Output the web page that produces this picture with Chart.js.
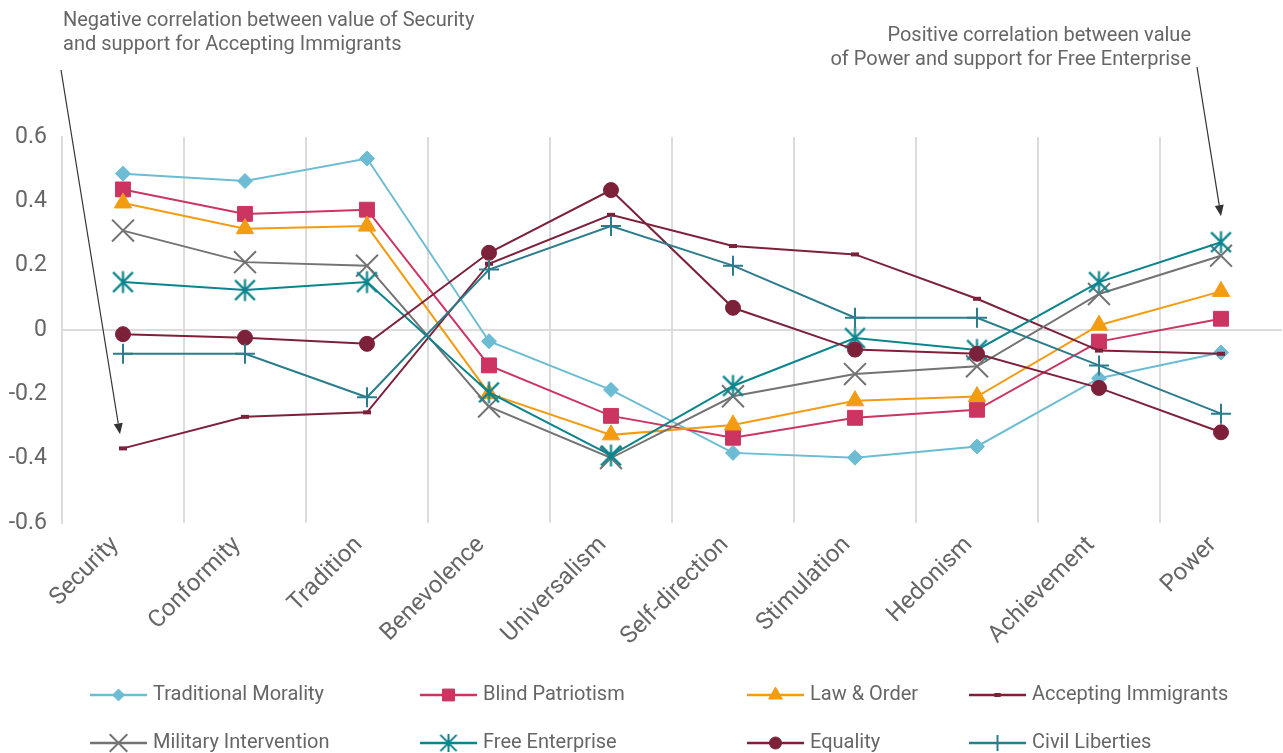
<!DOCTYPE html>
<html>
<head>
<meta charset="utf-8">
<script src="https://cdn.jsdelivr.net/npm/chart.js@4.4.1/dist/chart.umd.min.js"></script>
<style>
  html, body { margin: 0; padding: 0; background: #ffffff; }
  #wrap { width: 1283px; height: 753px; }
</style>
</head>
<body>
<div id="wrap"><canvas id="c" width="1283" height="753"></canvas></div>
<script>
// Schwartz basic values on the horizontal axis
const values = ['Security', 'Conformity', 'Tradition', 'Benevolence', 'Universalism',
                'Self-direction', 'Stimulation', 'Hedonism', 'Achievement', 'Power'];

// Correlation of each value with support for each policy attitude
const traditionalMorality  = [0.486, 0.463, 0.533, -0.035, -0.186, -0.382, -0.397, -0.362, -0.150, -0.070];
const blindPatriotism      = [0.437, 0.361, 0.374, -0.110, -0.267, -0.335, -0.273, -0.248, -0.036, 0.035];
const lawAndOrder          = [0.395, 0.315, 0.323, -0.198, -0.326, -0.295, -0.220, -0.207, 0.015, 0.120];
const acceptingImmigrants  = [-0.368, -0.270, -0.256, 0.206, 0.358, 0.261, 0.235, 0.097, -0.064, -0.074];
const militaryIntervention = [0.309, 0.211, 0.200, -0.238, -0.398, -0.206, -0.137, -0.113, 0.112, 0.231];
const freeEnterprise       = [0.149, 0.124, 0.149, -0.194, -0.390, -0.174, -0.025, -0.062, 0.149, 0.273];
const equality             = [-0.013, -0.024, -0.043, 0.240, 0.435, 0.069, -0.061, -0.074, -0.180, -0.318];
const civilLiberties       = [-0.074, -0.074, -0.209, 0.188, 0.323, 0.200, 0.038, 0.038, -0.110, -0.260];

const seriesNames = ['Traditional Morality', 'Blind Patriotism', 'Law & Order', 'Accepting Immigrants',
                     'Military Intervention', 'Free Enterprise', 'Equality', 'Civil Liberties'];

const yTickMin = -0.6, yTickMax = 0.6, yTickStep = 0.2;

const noteLeft  = ['Negative correlation between value of Security', 'and support for Accepting Immigrants'];
const noteRight = ['Positive correlation between value', 'of Power and support for Free Enterprise'];

const FONT = 'Roboto, "DejaVu Sans", sans-serif';
const TEXT = '#666666';
const GRID = '#dcdcdc';

// Asterisk marker: a vertical stroke crossed by an X
function asterisk(color, half, lw) {
  const c = document.createElement('canvas');
  const s = Math.ceil(half * 2 + lw * 2);
  c.width = s; c.height = s;
  const g = c.getContext('2d');
  const m = s / 2;
  g.strokeStyle = color; g.lineWidth = lw; g.lineCap = 'butt';
  g.beginPath();
  g.moveTo(m, m - half); g.lineTo(m, m + half);
  const d = half * 0.9;
  g.moveTo(m - d, m - d); g.lineTo(m + d, m + d);
  g.moveTo(m + d, m - d); g.lineTo(m - d, m + d);
  g.stroke();
  return c;
}

const styles = [
  { color: '#6cbcd3', pointStyle: 'rectRot',  radius: 7.5, bw: 1 },
  { color: '#cc3461', pointStyle: 'rect',     radius: 10.5, bw: 1 },
  { color: '#f39c12', pointStyle: 'triangle', radius: 10, bw: 1 },
  { color: '#7c2139', pointStyle: 'line',     radius: 4,  bw: 4 },
  { color: '#737373', pointStyle: 'crossRot', radius: 15.5, bw: 2 },
  { color: '#0a848d', pointStyle: asterisk('#0a848d', 11, 2.2), radius: 11, bw: 2 },
  { color: '#7c2139', pointStyle: 'circle',   radius: 7.5, bw: 1 },
  { color: '#2b7c8c', pointStyle: 'cross',    radius: 10, bw: 2 }
];

const seriesData = [traditionalMorality, blindPatriotism, lawAndOrder, acceptingImmigrants,
                    militaryIntervention, freeEnterprise, equality, civilLiberties];

const datasets = seriesData.map((d, i) => ({
  label: seriesNames[i],
  data: d,
  borderColor: styles[i].color,
  backgroundColor: styles[i].color,
  borderWidth: 2,
  pointStyle: styles[i].pointStyle,
  pointRadius: styles[i].radius,
  pointBorderWidth: styles[i].bw,
  pointBorderColor: styles[i].color,
  pointBackgroundColor: styles[i].color,
  pointHoverRadius: styles[i].radius,
  tension: 0,
  fill: false,
  clip: false,
  order: seriesData.length - i
}));

// Legend laid out in two rows of four, with line-and-marker samples
const legendCols = [90, 420, 747, 969];
const legendRows = [695, 743];
const legendPlugin = {
  id: 'lineLegend',
  afterDraw(chart) {
    const ctx = chart.ctx;
    ctx.save();
    chart.data.datasets.forEach((ds, i) => {
      const col = i % 4, row = Math.floor(i / 4);
      const x0 = legendCols[col], y = legendRows[row];
      const len = 57;
      ctx.strokeStyle = ds.borderColor;
      ctx.lineWidth = 2.5;
      ctx.beginPath();
      ctx.moveTo(x0, y); ctx.lineTo(x0 + len, y);
      ctx.stroke();
      ctx.fillStyle = ds.pointBackgroundColor;
      ctx.strokeStyle = ds.pointBorderColor;
      ctx.lineWidth = ds.pointBorderWidth;
      const r = ds.pointRadius * 0.8;
      let ps = ds.pointStyle;
      if (ps instanceof HTMLCanvasElement) ps = asterisk(ds.borderColor, 9, 2);
      Chart.helpers.drawPoint(ctx, { pointStyle: ps, radius: r, borderWidth: ds.pointBorderWidth, rotation: 0 }, x0 + len / 2, y);
      ctx.fillStyle = TEXT;
      ctx.font = '20px ' + FONT;
      ctx.textAlign = 'left';
      ctx.textBaseline = 'middle';
      ctx.fillText(ds.label, x0 + len + 6, y);
    });
    ctx.restore();
  }
};

function arrow(ctx, x1, y1, x2, y2) {
  const a = Math.atan2(y2 - y1, x2 - x1);
  const hl = 11, hw = 4.5;
  const bx = x2 - Math.cos(a) * hl, by = y2 - Math.sin(a) * hl;
  ctx.beginPath();
  ctx.moveTo(x1, y1); ctx.lineTo(bx, by);
  ctx.stroke();
  ctx.beginPath();
  ctx.moveTo(x2, y2);
  ctx.lineTo(bx + Math.sin(a) * hw, by - Math.cos(a) * hw);
  ctx.lineTo(bx - Math.sin(a) * hw, by + Math.cos(a) * hw);
  ctx.closePath();
  ctx.fill();
}

// Callout notes with arrows pointing at the highlighted correlations
const notesPlugin = {
  id: 'notes',
  afterDraw(chart) {
    const ctx = chart.ctx;
    const xs = chart.scales.x, ys = chart.scales.y;
    ctx.save();
    ctx.fillStyle = TEXT;
    ctx.font = '20px ' + FONT;
    ctx.textBaseline = 'middle';
    ctx.textAlign = 'left';
    ctx.fillText(noteLeft[0], 63, 21);
    ctx.fillText(noteLeft[1], 63, 45);
    ctx.textAlign = 'right';
    ctx.fillText(noteRight[0], 1191, 36);
    ctx.fillText(noteRight[1], 1191, 60);

    ctx.strokeStyle = '#333333';
    ctx.fillStyle = '#333333';
    ctx.lineWidth = 1.2;
    const p1x = xs.getPixelForValue(0), p1y = ys.getPixelForValue(acceptingImmigrants[0]);
    arrow(ctx, 61, 70, p1x - 3, p1y - 14);
    const p2x = xs.getPixelForValue(values.length - 1), p2y = ys.getPixelForValue(freeEnterprise[values.length - 1]);
    arrow(ctx, 1197, 67, p2x, p2y - 26);
    ctx.restore();
  }
};

new Chart(document.getElementById('c'), {
  type: 'line',
  data: { labels: values, datasets },
  plugins: [legendPlugin, notesPlugin],
  options: {
    responsive: false,
    animation: false,
    events: [],
    layout: { autoPadding: false, padding: { top: 137, right: 1, left: 0, bottom: 0 } },
    plugins: { legend: { display: false }, tooltip: { enabled: false } },
    scales: {
      x: {
        offset: true,
        afterFit(s) { s.height = 230; s.paddingLeft = 0; s.paddingRight = 0; },
        grid: {
          offset: true,
          drawTicks: false,
          lineWidth: 2,
          color: (c) => (c.type === 'tick' ? GRID : 'rgba(0,0,0,0)')
        },
        border: { display: false },
        ticks: {
          autoSkip: false,
          maxRotation: 45,
          minRotation: 45,
          padding: 8,
          labelOffset: -8,
          color: TEXT,
          font: { family: FONT, size: 24 }
        }
      },
      y: {
        min: yTickMin,
        max: yTickMax,
        afterFit(s) { s.width = 62; s.paddingTop = 0; s.paddingBottom = 0; },
        grid: {
          drawTicks: false,
          lineWidth: 2,
          color: (c) => (c.tick && Math.abs(c.tick.value) < 1e-9 ? GRID : 'rgba(0,0,0,0)')
        },
        border: { display: true, color: GRID, width: 2 },
        ticks: {
          stepSize: yTickStep,
          padding: 15,
          color: TEXT,
          font: { family: FONT, size: 23 },
          callback: (v) => (Math.abs(v) < 1e-9 ? '0' : Number(v).toFixed(1))
        }
      }
    }
  }
});
</script>
</body>
</html>
